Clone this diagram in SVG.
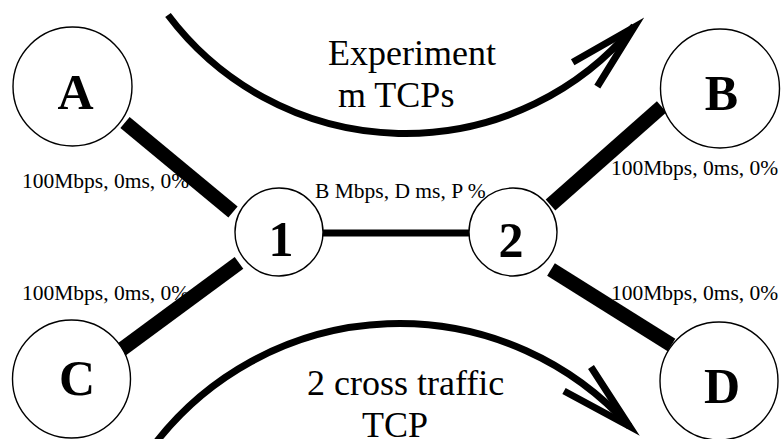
<svg xmlns="http://www.w3.org/2000/svg" width="782" height="439" viewBox="0 0 782 439">
  <style>
    .node { fill: #fff; stroke: #000; stroke-width: 1.4; }
    .name { font-family: "Liberation Serif", "Times New Roman", serif; font-weight: bold; font-size: 50px; text-anchor: middle; fill: #000; }
    .lbl { font-family: "Liberation Serif", "Times New Roman", serif; font-size: 21.5px; fill: #000; }
    .flow { font-family: "Liberation Serif", "Times New Roman", serif; font-size: 36px; fill: #000; }
    .access { stroke: #000; stroke-width: 14.5; stroke-linecap: butt; }
    .core { stroke: #000; stroke-width: 7; stroke-linecap: butt; }
    .arc { fill: none; stroke: #000; stroke-width: 7; stroke-linecap: butt; }
    .head { fill: none; stroke: #000; stroke-width: 7; stroke-linejoin: miter; stroke-miterlimit: 10; stroke-linecap: butt; }
  </style>

  <!-- traffic flow arcs -->
  <g id="flows">
    <path class="arc" d="M168,15 A297,297 0 0 0 634,26"/>
    <polyline class="head" points="572.7,62.3 634,27.3 597.3,86.7"/>
    <path class="arc" d="M154,445 A308.8,308.8 0 0 1 629.4,426.3"/>
    <polyline class="head" points="564,391 629.4,426.3 591,367"/>
    <text class="flow" x="328" y="65">Experiment</text>
    <text class="flow" x="338" y="107">m TCPs</text>
    <text class="flow" x="307" y="395">2 cross traffic</text>
    <text class="flow" x="362" y="437">TCP</text>
  </g>

  <!-- access link labels (drawn beneath the links) -->
  <g id="link-labels">
    <text class="lbl" x="22" y="188">100Mbps, 0ms, 0%</text>
    <text class="lbl" x="611" y="175">100Mbps, 0ms, 0%</text>
    <text class="lbl" x="22" y="300">100Mbps, 0ms, 0%</text>
    <text class="lbl" x="611" y="300">100Mbps, 0ms, 0%</text>
  </g>

  <!-- links -->
  <g id="connectors">
    <line class="access" x1="125" y1="122.5" x2="233" y2="212"/>
    <line class="access" x1="661.7" y1="106.7" x2="550.5" y2="205"/>
    <line class="access" x1="119.7" y1="350.8" x2="239" y2="262.8"/>
    <line class="access" x1="551" y1="269.5" x2="671.5" y2="345"/>
    <line class="core" x1="322" y1="233" x2="470" y2="233"/>
  </g>

  <g id="node-A">
    <circle class="node" cx="72.5" cy="86.5" r="59.5"/>
    <text class="name" x="75.5" y="109">A</text>
  </g>
  <g id="node-B">
    <circle class="node" cx="720" cy="88.5" r="59.5"/>
    <text class="name" x="721.5" y="110">B</text>
  </g>
  <g id="node-C">
    <circle class="node" cx="71.5" cy="379" r="59"/>
    <text class="name" x="77" y="395">C</text>
  </g>
  <g id="node-D">
    <circle class="node" cx="719" cy="381" r="59"/>
    <text class="name" x="722" y="403">D</text>
  </g>
  <g id="node-1">
    <circle class="node" cx="279" cy="232" r="44"/>
    <text class="name" x="281" y="256">1</text>
  </g>
  <g id="node-2">
    <circle class="node" cx="513" cy="232" r="44"/>
    <text class="name" x="511" y="257">2</text>
  </g>

  <!-- bottleneck label -->
  <text id="bottleneck-label" class="lbl" x="315" y="198">B Mbps, D ms, P %</text>
</svg>
